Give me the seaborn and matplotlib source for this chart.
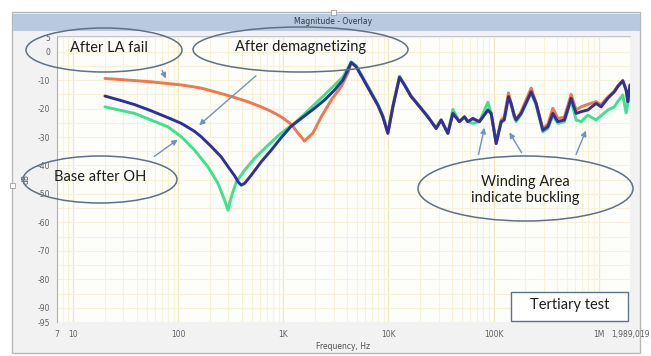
import numpy as np
import pandas as pd
import seaborn as sns
import matplotlib
matplotlib.use("Agg")
import matplotlib.pyplot as plt
from matplotlib.patches import Ellipse, Rectangle, FancyArrowPatch
from matplotlib.ticker import FixedLocator, NullFormatter

# ---------------- data ----------------
hf_freq = [17540, 23700, 28430, 31700, 36730, 41000, 47350, 52840, 56900, 63500, 73400,
           88300, 94900, 105900, 118100, 126200, 138700, 146900, 157000, 164000, 183200,
           228000, 254200, 294400, 328600, 366500, 409000, 472700, 547000, 610700, 681000,
           788500, 946000, 1056000, 1222000, 1413000, 1521000, 1698000, 1827000, 1896000,
           1989019]

freq_demag = [20, 28.6, 38.3, 55.2, 79.6, 106.7, 142.7, 165, 204, 256, 305, 343, 375, 397,
              427, 494, 615, 766, 953, 1186, 1476, 1978, 2461, 3065, 3683, 4110, 4416,
              4930, 5705, 6842, 7923, 8845, 9870, 11010, 12730, 14200, 16440] + hf_freq
db_demag = [-15.6, -17.2, -18.6, -20.8, -23.2, -25.2, -28.0, -29.9, -33.2, -37.0,
            -41.0, -43.6, -46.0, -46.9, -46.3, -43.4, -38.7, -34.6, -30.2, -26.2, -23.5,
            -19.9, -17.0, -13.5, -10.0, -6.4, -3.8, -5.3, -9.4, -14.6, -18.8, -22.9, -28.7,
            -19.4, -9.0, -11.7, -15.8,
            -17.0, -22.9, -27.0, -24.0, -28.7, -21.7, -24.6, -22.9, -24.6, -23.5, -24.6,
            -20.5, -21.7, -32.3, -24.6, -24.0, -15.8, -18.2, -22.3, -24.0, -21.7,
            -14.1, -18.2, -27.6, -26.4, -21.7, -24.6, -24.0, -16.4, -21.7, -21.1,
            -20.5, -18.2, -19.4, -16.4, -14.1, -12.3, -10.2, -13.5, -17.6, -11.7]

freq_la = [20, 55, 107, 165, 238, 330, 459, 615, 766, 953, 1186, 1374, 1588, 1909, 2290,
           2850, 3548, 4110, 4416, 4930, 5705, 6842, 7923, 8845, 9870, 11010, 12730,
           14200, 16440] + hf_freq
db_la = [-9.4, -10.6, -11.7, -12.8, -14.4, -15.9, -17.6, -19.4, -21.0, -22.9, -25.5,
         -28.6, -31.4, -28.6, -22.9, -17.0, -12.3, -7.5, -3.8, -5.3, -9.4, -14.6, -18.8,
         -22.9, -28.7, -19.4, -9.0, -11.7, -15.8,
         -17.0, -22.9, -27.0, -24.0, -28.7, -21.7, -24.6, -22.9, -24.6, -23.5, -24.6,
         -20.5, -21.7, -32.3, -24.0, -23.0, -14.5, -18.2, -22.3, -24.0, -21.0,
         -12.8, -18.0, -27.0, -25.5, -19.9, -23.5, -23.0, -15.0, -20.5, -19.4,
         -18.5, -17.6, -18.6, -16.0, -13.8, -12.0, -10.2, -13.5, -17.6, -11.7]

freq_base = [20, 38.3, 79.6, 106.7, 142.7, 191.4, 238.4, 275.3, 296.6, 318.7, 355.6,
             426.6, 531, 712, 953, 1276, 1476, 2461, 3683, 4110, 4416, 4930, 5705,
             6842, 7923, 8845, 9870, 11010, 12730, 14200, 16440] + hf_freq
db_base = [-19.4, -21.7, -26.4, -29.9, -34.6, -40.5, -46.3, -52.2, -55.7, -51.1, -45.8,
           -41.7, -37.5, -32.9, -28.6, -25.1, -23.0, -15.2, -8.9, -5.7, -3.6, -5.0, -9.0,
           -14.2, -18.4, -22.5, -28.3, -19.0, -8.6, -11.5, -15.6,
           -16.8, -22.7, -26.8, -24.0, -28.7, -20.3, -24.6, -22.9, -24.6, -25.2, -24.6,
           -17.8, -21.7, -31.5, -25.0, -24.0, -16.2, -18.6, -23.0, -24.6, -22.0,
           -14.6, -18.8, -28.2, -27.0, -22.5, -25.2, -24.6, -17.2, -24.0, -24.6,
           -22.3, -24.0, -22.5, -20.5, -19.4, -17.5, -15.2, -21.5, -18.0, -15.8]

x_ticks = [7, 10, 100, 1000, 10000, 100000, 1000000, 1989019]
x_tick_labels = ["7", "10", "100", "1K", "10K", "100K", "1M", "1,989,019"]
y_ticks = [5, 0, -10, -20, -30, -40, -50, -60, -70, -80, -90, -95]

# ---------------- figure ----------------
sns.set_style("white")
plt.rcParams["font.family"] = ["DejaVu Sans"]

W, H = 651, 356
fig = plt.figure(figsize=(W / 100, H / 100), dpi=100)
fig.patch.set_facecolor("white")


def fx(x):
    return x / W


def fy(y):
    return 1 - y / H


# outer panel and title band
fig.add_artist(Rectangle((fx(12), fy(353)), fx(640 - 12), (353 - 12) / H,
                         transform=fig.transFigure, facecolor="#F2F2F2",
                         edgecolor="#B8B8B8", lw=1.0, zorder=0))
fig.add_artist(Rectangle((fx(13), fy(31)), fx(640 - 13), (31 - 14) / H,
                         transform=fig.transFigure, facecolor="#B7CADF",
                         edgecolor="none", zorder=0.5))
fig.text(fx(333), fy(22), "Magnitude - Overlay", fontsize=5.5, color="#303848",
         ha="center", va="center")

ax = fig.add_axes([fx(57), fy(322), fx(630 - 57), (322 - 36) / H])
ax.set_facecolor("#FDFDFA")

df_base = pd.DataFrame({"Frequency": freq_base, "dB": db_base})
df_la = pd.DataFrame({"Frequency": freq_la, "dB": db_la})
df_demag = pd.DataFrame({"Frequency": freq_demag, "dB": db_demag})

line_kw = dict(lw=2.1, estimator=None, sort=False, solid_joinstyle="round",
               solid_capstyle="round")
sns.lineplot(data=df_base, x="Frequency", y="dB", ax=ax, color="#3FE08E", zorder=3, **line_kw)
sns.lineplot(data=df_la, x="Frequency", y="dB", ax=ax, color="#F0784A", zorder=4, **line_kw)
sns.lineplot(data=df_demag, x="Frequency", y="dB", ax=ax, color="#2E309C", zorder=5, **line_kw)

ax.set_xscale("log")
ax.set_xlim(7, 1989019)
ax.set_ylim(-95, 5.5)

# grid
minor_x = [m * 10 ** e for e in range(0, 7) for m in range(2, 10) if 7 <= m * 10 ** e <= 1989019]
for v in minor_x:
    ax.axvline(v, color="#F8F3D6", lw=0.8, zorder=1)
for v in [10, 100, 1000, 10000, 100000, 1000000]:
    ax.axvline(v, color="#F1E8BC", lw=0.9, zorder=1)
for v in range(-95, 6, 5):
    ax.axhline(v, color="#F6F1D8", lw=0.8, zorder=1)

ax.set_xticks(x_ticks)
ax.set_xticklabels(x_tick_labels)
ax.xaxis.set_minor_locator(FixedLocator([]))
ax.xaxis.set_minor_formatter(NullFormatter())
ax.set_yticks(y_ticks)
ax.set_yticklabels([str(v) for v in y_ticks])
ax.tick_params(axis="x", length=3, width=0.8, color="#E07070", labelsize=5.5,
               labelcolor="#606060", pad=3, direction="out")
ax.tick_params(axis="y", length=3, width=0.8, color="#808080", labelsize=5.5,
               labelcolor="#606060", pad=2, direction="out")
ax.set_xlabel("Frequency, Hz", fontsize=5.5, color="#505050", labelpad=2)
ax.set_ylabel("dB", fontsize=5.5, color="#505050", labelpad=5)
for s in ["right", "bottom"]:
    ax.spines[s].set_visible(False)
ax.spines["left"].set_color("#B0B0B0")
ax.spines["top"].set_color("#C8C8C8")
ax.spines["left"].set_linewidth(0.8)
ax.spines["top"].set_linewidth(0.8)

# ---------------- annotations ----------------
edge = "#5E7186"
arrow_c = "#7193BA"
ann_font = ["Lato", "DejaVu Sans"]
ann_kw = dict(fontsize=10.5, family=ann_font, ha="center", va="center",
              color="#1E1E1E", zorder=11)


def ellipse(x0, y0, x1, y1):
    cx, cy = (x0 + x1) / 2, (y0 + y1) / 2
    fig.add_artist(Ellipse((fx(cx), fy(cy)), (x1 - x0) / W, (y1 - y0) / H,
                           transform=fig.transFigure, facecolor="none",
                           edgecolor=edge, lw=1.1, zorder=10))


def arrow(x0, y0, x1, y1):
    fig.add_artist(FancyArrowPatch((fx(x0), fy(y0)), (fx(x1), fy(y1)),
                                   transform=fig.transFigure, arrowstyle="-|>",
                                   mutation_scale=8, color=arrow_c, lw=1.0, zorder=10))


ellipse(26, 28, 182, 72)
fig.text(fx(109), fy(48), "After LA fail", **ann_kw)
ellipse(193, 27, 408, 72)
fig.text(fx(301), fy(47), "After demagnetizing", **ann_kw)
ellipse(23, 156, 177, 203)
fig.text(fx(100), fy(177), "Base after OH", **ann_kw)
ellipse(418, 156, 633, 221)
fig.text(fx(525), fy(182), "Winding Area", **ann_kw)
fig.text(fx(525), fy(198), "indicate buckling", **ann_kw)

fig.add_artist(Rectangle((fx(511), fy(321)), (628 - 511) / W, (321 - 292) / H,
                         transform=fig.transFigure, facecolor="white",
                         edgecolor=edge, lw=1.0, zorder=10))
fig.text(fx(570), fy(305), "Tertiary test", **ann_kw)

arrow(161, 68, 167, 81)
arrow(258, 74, 197, 127)
arrow(152, 158, 180, 138)
arrow(478, 157, 485, 125)
arrow(523, 155, 508, 130)
arrow(575, 157, 587, 128)

# small frame handles
for (hx, hy) in [(333, 12), (12, 185)]:
    fig.add_artist(Rectangle((fx(hx - 2.5), fy(hy + 2.5)), 5 / W, 5 / H,
                             transform=fig.transFigure, facecolor="white",
                             edgecolor="#A0A0A0", lw=0.6, zorder=12))

fig.savefig("out.png", dpi=100)
